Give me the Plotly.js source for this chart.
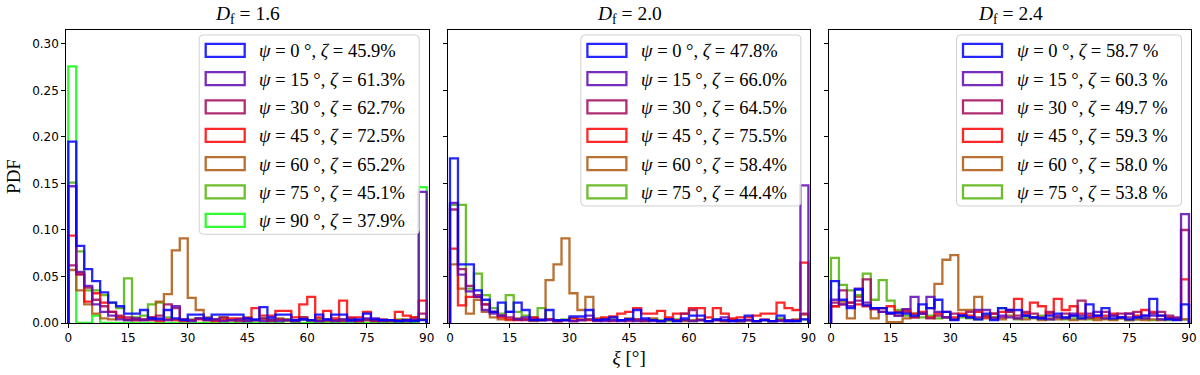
<!DOCTYPE html>
<html>
<head>
<meta charset="utf-8">
<script src="https://cdn.plot.ly/plotly-3.0.1.min.js"></script>
<style>html,body{margin:0;padding:0;background:#fff;}#chart{width:1200px;height:375px;}</style>
</head>
<body>
<div id="chart"></div>
<script>
// ---------- data ----------
const binEdges = [0,2,4,6,8,10,12,14,16,18,20,22,24,26,28,30,32,34,36,38,40,42,44,46,48,50,52,54,56,58,60,62,64,66,68,70,72,74,76,78,80,82,84,86,88,90];
const xTicks = [0,15,30,45,60,75,90];
const panelTitles = ["1.6", "2.0", "2.4"];
const psiLabels = [0, 15, 30, 45, 60, 75, 90];

// D_f = 1.6
const p1_psi0  = [0.195,0.083,0.058,0.045,0.033,0.022,0.018,0.010,0.010,0.014,0.005,0.004,0.014,0.005,0.003,0.009,0.009,0.005,0.009,0.009,0.009,0.009,0.005,0.004,0.017,0.006,0.009,0.009,0.003,0.004,0.003,0.009,0.004,0.009,0.009,0.003,0.004,0.010,0.004,0.003,0.003,0.002,0.003,0.002,0.003];
const p1_psi15 = [0.147,0.055,0.040,0.020,0.012,0.008,0.004,0.003,0.005,0.003,0.004,0.005,0.003,0.018,0.004,0.002,0.005,0.003,0.004,0.002,0.003,0.004,0.002,0.003,0.002,0.004,0.002,0.003,0.002,0.004,0.003,0.002,0.003,0.002,0.004,0.002,0.003,0.005,0.005,0.002,0.003,0.002,0.002,0.004,0.141];
const p1_psi30 = [0.062,0.052,0.038,0.025,0.018,0.012,0.008,0.006,0.003,0.004,0.006,0.008,0.020,0.016,0.004,0.003,0.005,0.004,0.003,0.006,0.003,0.002,0.004,0.003,0.005,0.002,0.004,0.003,0.002,0.006,0.003,0.002,0.004,0.003,0.002,0.005,0.002,0.003,0.002,0.004,0.002,0.003,0.002,0.003,0.010];
const p1_psi45 = [0.094,0.053,0.023,0.032,0.022,0.012,0.006,0.004,0.003,0.003,0.003,0.002,0.004,0.003,0.002,0.003,0.004,0.003,0.002,0.003,0.005,0.005,0.005,0.016,0.008,0.008,0.013,0.013,0.006,0.020,0.028,0.006,0.013,0.005,0.024,0.006,0.006,0.012,0.003,0.003,0.003,0.012,0.008,0.006,0.024];
const p1_psi60 = [0.057,0.035,0.020,0.010,0.005,0.004,0.006,0.003,0.005,0.004,0.006,0.023,0.031,0.078,0.091,0.027,0.014,0.006,0.004,0.005,0.003,0.004,0.006,0.003,0.004,0.003,0.005,0.004,0.003,0.006,0.003,0.004,0.002,0.003,0.004,0.003,0.002,0.004,0.003,0.002,0.003,0.002,0.004,0.006,0.004];
const p1_psi75 = [0.151,0.077,0.035,0.035,0.030,0.022,0.016,0.048,0.006,0.008,0.020,0.022,0.006,0.004,0.003,0.004,0.005,0.003,0.004,0.006,0.003,0.004,0.002,0.003,0.005,0.003,0.004,0.002,0.003,0.004,0.002,0.004,0.003,0.002,0.003,0.004,0.002,0.003,0.002,0.003,0.002,0.004,0.003,0.002,0.004];
const p1_psi90 = [0.276,0.000,0.000,0.008,0.000,0.000,0.000,0.000,0.000,0.000,0.000,0.000,0.000,0.000,0.000,0.000,0.000,0.000,0.000,0.000,0.000,0.000,0.000,0.000,0.000,0.000,0.000,0.004,0.000,0.000,0.000,0.000,0.000,0.000,0.000,0.000,0.000,0.000,0.000,0.000,0.000,0.000,0.000,0.000,0.146];
const p1_zeta = ["45.9%", "61.3%", "62.7%", "72.5%", "65.2%", "45.1%", "37.9%"];

// D_f = 2.0
const p2_psi0  = [0.177,0.063,0.063,0.035,0.025,0.012,0.022,0.012,0.022,0.014,0.003,0.003,0.014,0.003,0.003,0.007,0.007,0.014,0.003,0.004,0.006,0.003,0.004,0.014,0.005,0.003,0.002,0.004,0.002,0.005,0.008,0.008,0.002,0.004,0.003,0.002,0.003,0.008,0.002,0.003,0.002,0.008,0.002,0.002,0.004];
const p2_psi15 = [0.129,0.052,0.034,0.028,0.014,0.010,0.008,0.012,0.004,0.006,0.003,0.004,0.003,0.002,0.003,0.002,0.003,0.008,0.003,0.002,0.003,0.002,0.004,0.002,0.003,0.002,0.002,0.004,0.002,0.003,0.002,0.003,0.002,0.003,0.006,0.002,0.002,0.003,0.002,0.003,0.002,0.002,0.003,0.002,0.148];
const p2_psi30 = [0.122,0.058,0.040,0.030,0.020,0.012,0.008,0.006,0.004,0.003,0.005,0.003,0.004,0.002,0.003,0.002,0.003,0.004,0.002,0.003,0.002,0.003,0.002,0.004,0.002,0.003,0.002,0.004,0.003,0.010,0.014,0.003,0.002,0.003,0.002,0.003,0.002,0.003,0.002,0.004,0.002,0.003,0.002,0.003,0.010];
const p2_psi45 = [0.080,0.019,0.028,0.028,0.020,0.012,0.006,0.004,0.003,0.004,0.006,0.003,0.004,0.002,0.003,0.005,0.004,0.003,0.004,0.006,0.007,0.010,0.012,0.016,0.010,0.010,0.013,0.006,0.010,0.010,0.016,0.016,0.006,0.016,0.010,0.005,0.006,0.006,0.008,0.010,0.010,0.022,0.016,0.014,0.065];
const p2_psi60 = [0.063,0.037,0.010,0.025,0.012,0.006,0.004,0.003,0.005,0.004,0.002,0.003,0.046,0.063,0.091,0.032,0.014,0.028,0.005,0.004,0.003,0.003,0.005,0.004,0.003,0.005,0.002,0.004,0.003,0.002,0.003,0.004,0.002,0.003,0.002,0.004,0.002,0.003,0.002,0.003,0.002,0.003,0.002,0.004,0.009];
const p2_psi75 = [0.127,0.127,0.037,0.053,0.030,0.016,0.010,0.030,0.012,0.008,0.006,0.016,0.004,0.003,0.004,0.005,0.003,0.004,0.003,0.005,0.004,0.003,0.004,0.003,0.002,0.004,0.003,0.002,0.004,0.003,0.002,0.003,0.002,0.004,0.002,0.003,0.002,0.003,0.002,0.003,0.002,0.005,0.003,0.002,0.004];
const p2_zeta = ["47.8%", "66.0%", "64.5%", "75.5%", "58.4%", "44.4%"];

// D_f = 2.4
const p3_psi0  = [0.045,0.025,0.016,0.036,0.019,0.016,0.016,0.011,0.011,0.010,0.008,0.020,0.016,0.025,0.012,0.003,0.008,0.006,0.004,0.010,0.003,0.016,0.014,0.014,0.008,0.006,0.005,0.008,0.010,0.006,0.008,0.005,0.020,0.008,0.016,0.005,0.006,0.004,0.006,0.008,0.026,0.008,0.004,0.003,0.020];
const p3_psi15 = [0.025,0.020,0.018,0.037,0.022,0.016,0.012,0.010,0.008,0.015,0.028,0.010,0.028,0.012,0.006,0.004,0.008,0.006,0.014,0.014,0.005,0.008,0.006,0.005,0.008,0.006,0.005,0.004,0.006,0.005,0.010,0.008,0.006,0.012,0.005,0.008,0.006,0.010,0.006,0.005,0.008,0.004,0.005,0.005,0.117];
const p3_psi30 = [0.022,0.035,0.022,0.024,0.047,0.015,0.012,0.010,0.008,0.012,0.006,0.010,0.005,0.008,0.006,0.010,0.008,0.012,0.006,0.008,0.010,0.006,0.012,0.008,0.012,0.010,0.006,0.012,0.008,0.010,0.008,0.024,0.010,0.008,0.012,0.008,0.010,0.006,0.012,0.008,0.010,0.012,0.008,0.006,0.100];
const p3_psi45 = [0.018,0.020,0.022,0.020,0.018,0.015,0.016,0.018,0.012,0.014,0.010,0.012,0.006,0.010,0.012,0.006,0.010,0.008,0.012,0.006,0.010,0.012,0.014,0.026,0.010,0.022,0.018,0.010,0.026,0.014,0.018,0.010,0.008,0.006,0.008,0.010,0.006,0.010,0.008,0.014,0.012,0.008,0.006,0.004,0.047];
const p3_psi60 = [0.018,0.023,0.005,0.028,0.019,0.005,0.016,0.001,0.001,0.005,0.006,0.010,0.016,0.042,0.068,0.073,0.014,0.014,0.028,0.005,0.006,0.004,0.008,0.005,0.004,0.006,0.003,0.005,0.004,0.006,0.003,0.004,0.005,0.003,0.004,0.003,0.005,0.003,0.004,0.003,0.004,0.003,0.005,0.004,0.004];
const p3_psi75 = [0.070,0.041,0.035,0.030,0.053,0.025,0.046,0.024,0.014,0.008,0.010,0.006,0.008,0.005,0.006,0.004,0.006,0.005,0.004,0.008,0.006,0.016,0.012,0.004,0.006,0.005,0.008,0.004,0.006,0.004,0.005,0.006,0.004,0.005,0.006,0.004,0.005,0.003,0.004,0.005,0.003,0.004,0.003,0.004,0.004];
const p3_zeta = ["58.7 %", "60.3 %", "49.7 %", "59.3 %", "58.0 %", "53.8 %"];

// ---------- styling ----------
const colors = ["rgba(0,0,255,0.85)", "rgba(96,8,179,0.85)", "rgba(161,8,91,0.85)", "rgba(255,2,2,0.85)",
                "rgba(173,87,14,0.85)", "rgba(82,179,8,0.85)", "rgba(14,249,14,0.85)"];
const panels = [
  {series: [p1_psi0, p1_psi15, p1_psi30, p1_psi45, p1_psi60, p1_psi75, p1_psi90], zeta: p1_zeta, xa: "x", ya: "y"},
  {series: [p2_psi0, p2_psi15, p2_psi30, p2_psi45, p2_psi60, p2_psi75], zeta: p2_zeta, xa: "x2", ya: "y2"},
  {series: [p3_psi0, p3_psi15, p3_psi30, p3_psi45, p3_psi60, p3_psi75], zeta: p3_zeta, xa: "x3", ya: "y3"}
];

// pixel geometry of the figure
const W = 1200, H = 375;
const mL = 66, mR = 9, mT = 30, mB = 52;
const PW = W - mL - mR, PH = H - mT - mB;
const panelPx = [[66.3, 428.7], [448.0, 810.4], [829.0, 1191.0]];
const X = px => (px - mL) / PW;
const Y = py => (H - mB - py) / PH;
const serif = "Liberation Serif, DejaVu Serif, serif";

function stepXY(vals) {
  const xs = [binEdges[0]], ys = [0];
  for (let i = 0; i < vals.length; i++) { xs.push(binEdges[i]); ys.push(vals[i]); }
  xs.push(binEdges[vals.length]); ys.push(vals[vals.length - 1]);
  xs.push(binEdges[vals.length]); ys.push(0);
  return {xs, ys};
}

const traces = [];
panels.forEach((p, pi) => {
  for (let k = p.series.length - 1; k >= 0; k--) {
    const s = stepXY(p.series[k]);
    traces.push({
      type: "scatter", mode: "lines", x: s.xs, y: s.ys,
      xaxis: p.xa, yaxis: p.ya, line: {shape: "hv", color: colors[k], width: 2.3},
      name: "ψ=" + psiLabels[k] + "°, ζ=" + p.zeta[k], showlegend: false, hoverinfo: "skip"
    });
  }
});

function roundRect(x0, y0, x1, y1, r) {
  return `M ${X(x0+r)},${Y(y0)} L ${X(x1-r)},${Y(y0)} Q ${X(x1)},${Y(y0)} ${X(x1)},${Y(y0+r)} ` +
         `L ${X(x1)},${Y(y1-r)} Q ${X(x1)},${Y(y1)} ${X(x1-r)},${Y(y1)} L ${X(x0+r)},${Y(y1)} ` +
         `Q ${X(x0)},${Y(y1)} ${X(x0)},${Y(y1-r)} L ${X(x0)},${Y(y0+r)} Q ${X(x0)},${Y(y0)} ${X(x0+r)},${Y(y0)} Z`;
}

const shapes = [], annotations = [];
const legendW = [220, 220, 225];
const rowH = 28.33, legTop = 35;
panels.forEach((p, pi) => {
  const right = panelPx[pi][1] - 9.5;
  const left = right - legendW[pi];
  const n = p.series.length;
  const bottom = legTop + 15.3 + (n - 1) * rowH + 14;
  shapes.push({type: "path", xref: "paper", yref: "paper", path: roundRect(left, legTop, right, bottom, 4),
               fillcolor: "rgba(255,255,255,0.8)", line: {color: "#d0d0d0", width: 1}, layer: "above"});
  for (let k = 0; k < n; k++) {
    const cy = legTop + 15.3 + k * rowH;
    shapes.push({type: "rect", xref: "paper", yref: "paper", x0: X(left + 6.5), x1: X(left + 45.5),
                 y0: Y(cy + 6.5), y1: Y(cy - 6.5), line: {color: colors[k], width: 2.3}, fillcolor: "rgba(0,0,0,0)", layer: "above"});
    annotations.push({xref: "paper", yref: "paper", x: X(left + 58), y: Y(cy + 1), xanchor: "left", yanchor: "middle",
      showarrow: false, text: "<i>ψ</i> = " + psiLabels[k] + " °, <i>ζ</i> = " + p.zeta[k],
      font: {family: serif, size: 18.5, color: "#000"}});
  }
  annotations.push({xref: "paper", yref: "paper", x: X((panelPx[pi][0] + panelPx[pi][1]) / 2), y: 1,
    xanchor: "center", yanchor: "bottom", yshift: 1, showarrow: false,
    text: "<i>D</i><sub>f</sub> = " + panelTitles[pi],
    font: {family: serif, size: 19.5, color: "#000"}});
});

const tickFont = {family: "DejaVu Sans, sans-serif", size: 12, color: "#000"};
function xAxis(pi, anchor) {
  return {domain: [X(panelPx[pi][0]), X(panelPx[pi][1])], anchor: anchor, range: [-0.5, 90.5],
    tickmode: "array", tickvals: xTicks, ticktext: xTicks.map(String), ticks: "outside", ticklen: 4, tickwidth: 1,
    tickcolor: "#000", showline: true, linecolor: "#000", linewidth: 1, mirror: true, showgrid: false,
    zeroline: false, tickfont: tickFont};
}
function yAxis(anchor, labels) {
  return {anchor: anchor, range: [0, 0.315], tickmode: "array", tickvals: [0, 0.05, 0.10, 0.15, 0.20, 0.25, 0.30],
    ticktext: ["0.00", "0.05", "0.10", "0.15", "0.20", "0.25", "0.30"], showticklabels: labels,
    ticks: "outside", ticklen: 4, tickwidth: 1, tickcolor: "#000", showline: true, linecolor: "#000",
    linewidth: 1, mirror: true, showgrid: false, zeroline: false, tickfont: tickFont};
}

const layout = {
  width: W, height: H, margin: {l: mL, r: mR, t: mT, b: mB}, paper_bgcolor: "#fff", plot_bgcolor: "#fff",
  showlegend: false,
  xaxis: xAxis(0, "y"), xaxis2: Object.assign(xAxis(1, "y2"), {title: {text: "<i>ξ</i> [°]", standoff: 6,
    font: {family: serif, size: 19, color: "#000"}}}), xaxis3: xAxis(2, "y3"),
  yaxis: Object.assign(yAxis("x", true), {title: {text: "PDF", standoff: 6,
    font: {family: serif, size: 19, color: "#000"}}}),
  yaxis2: yAxis("x2", false), yaxis3: yAxis("x3", false),
  shapes: shapes, annotations: annotations
};

Plotly.newPlot("chart", traces, layout, {staticPlot: true, displayModeBar: false});
</script>
</body>
</html>
